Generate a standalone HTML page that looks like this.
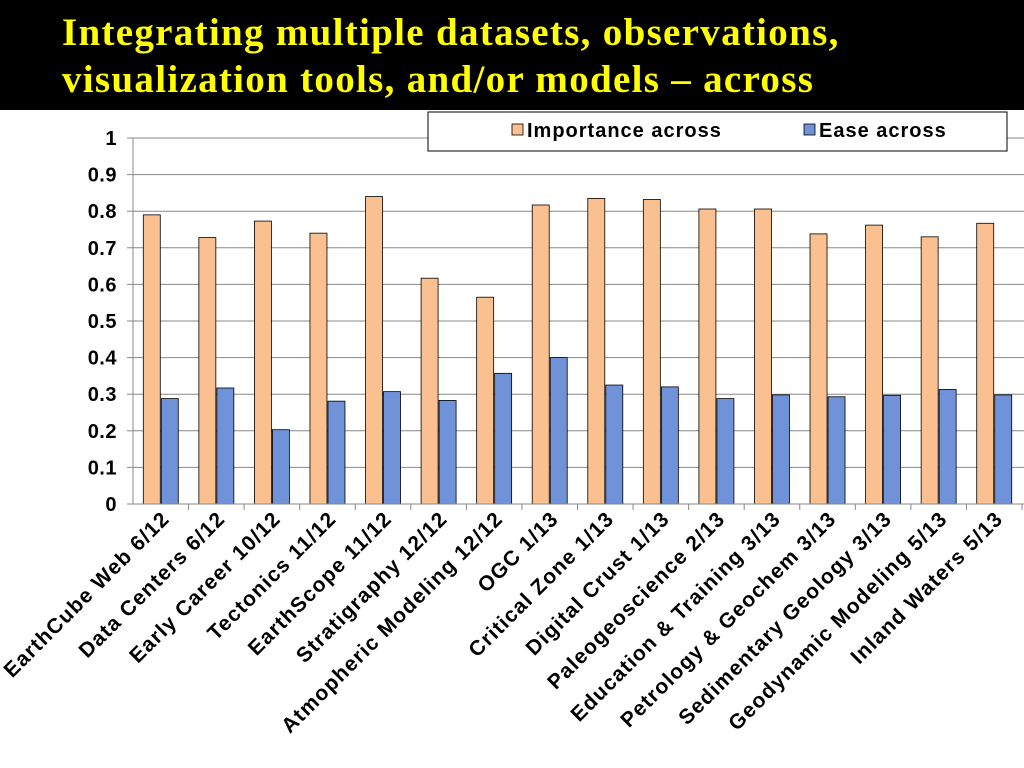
<!DOCTYPE html>
<html><head><meta charset="utf-8"><style>
html,body{margin:0;padding:0;width:1024px;height:768px;overflow:hidden;background:#fff}
#title{position:absolute;left:0;top:0;width:1024px;height:110px;background:#000}
#title div{position:absolute;left:62px;top:9px;color:#ffff00;font:bold 39px "Liberation Serif",serif;letter-spacing:1.3px;line-height:47px;white-space:nowrap}
svg{position:absolute;left:0;top:0}
</style></head><body>
<div id="title"><div>Integrating multiple datasets, observations,<br>visualization tools, and/or models – across</div></div>
<svg id="chart" width="1024" height="768"></svg>
<script>
const categories=["EarthCube Web 6/12","Data Centers 6/12","Early Career 10/12","Tectonics 11/12","EarthScope 11/12","Stratigraphy 12/12","Atmopheric Modeling 12/12","OGC 1/13","Critical Zone 1/13","Digital Crust 1/13","Paleogeoscience 2/13","Education & Training 3/13","Petrology & Geochem 3/13","Sedimentary Geology 3/13","Geodynamic Modeling 5/13","Inland Waters 5/13"];
const importance=[0.79,0.728,0.773,0.74,0.84,0.617,0.565,0.817,0.835,0.832,0.806,0.806,0.738,0.762,0.73,0.767];
const ease=[0.288,0.317,0.203,0.281,0.307,0.283,0.357,0.4,0.325,0.32,0.288,0.298,0.293,0.297,0.313,0.298];
const yTicks=["0","0.1","0.2","0.3","0.4","0.5","0.6","0.7","0.8","0.9","1"];
const svg=document.getElementById('chart');const NS='http://www.w3.org/2000/svg';
const X0=133,X1=1022,Y0=504,Y1=138;
const gw=(X1-X0)/categories.length;
const y=v=>Y0-(Y0-Y1)*v;
const xc=i=>X0+gw*(i+0.5);
const FONT='Liberation Sans, sans-serif';
function mk(t,a,p){const e=document.createElementNS(NS,t);for(const k in a)e.setAttribute(k,a[k]);(p||svg).appendChild(e);return e;}
yTicks.forEach((t,i)=>{const v=parseFloat(t);
 const g=mk('line',{x1:X0,x2:1024,y1:y(v),y2:y(v),stroke:'#888','stroke-width':1});
 
 
 const tk=mk('line',{x1:X0-6,x2:X0,y1:y(v),y2:y(v),stroke:'#888'});
 
 
 const tx=mk('text',{x:117,y:y(v)+7,'text-anchor':'end','font-family':FONT,'font-weight':'bold','font-size':20,'letter-spacing':0.5});
 tx.textContent=t;
 
 
});
const ax=mk('line',{x1:X0,x2:X0,y1:Y1,y2:Y0,stroke:'#888'});


const bw=17;
categories.forEach((c,i)=>{
 const cx=xc(i);
 const b1=mk('rect',{x:cx-bw-0.5,y:y(importance[i]),width:bw,height:Y0-y(importance[i]),fill:'#fac090',stroke:'#000','stroke-width':0.8});
 
 
 const b2=mk('rect',{x:cx+0.5,y:y(ease[i]),width:bw,height:Y0-y(ease[i]),fill:'#6f92d8',stroke:'#000','stroke-width':0.8});
 
 
 const tk=mk('line',{x1:X0+gw*(i+1),x2:X0+gw*(i+1),y1:Y0,y2:Y0+6,stroke:'#888'});
 
 
 const lx=cx+10,ly=Y0+16;
 const t=mk('text',{x:lx,y:ly,'text-anchor':'end','font-family':FONT,'font-weight':'bold','font-size':21,'letter-spacing':1.2,transform:`rotate(-45 ${lx} ${ly})`});
 t.textContent=c;
 
 
});
const xa=mk('line',{x1:X0,x2:1024,y1:Y0,y2:Y0,stroke:'#888'});


const lg=mk('g',{});


mk('rect',{x:428,y:112,width:579,height:39,fill:'#fff',stroke:'#000','stroke-width':1},lg);
const e1=mk('rect',{x:512,y:124,width:11,height:11,fill:'#fac090',stroke:'#000','stroke-width':0.8},lg);


const t1=mk('text',{x:527,y:137,'font-family':FONT,'font-weight':'bold','font-size':20,'letter-spacing':1},lg);
t1.textContent='Importance across';


const e2=mk('rect',{x:804,y:124,width:11,height:11,fill:'#6f92d8',stroke:'#000','stroke-width':0.8},lg);


const t2=mk('text',{x:819,y:137,'font-family':FONT,'font-weight':'bold','font-size':20,'letter-spacing':1},lg);
t2.textContent='Ease across';


</script>
</body></html>
